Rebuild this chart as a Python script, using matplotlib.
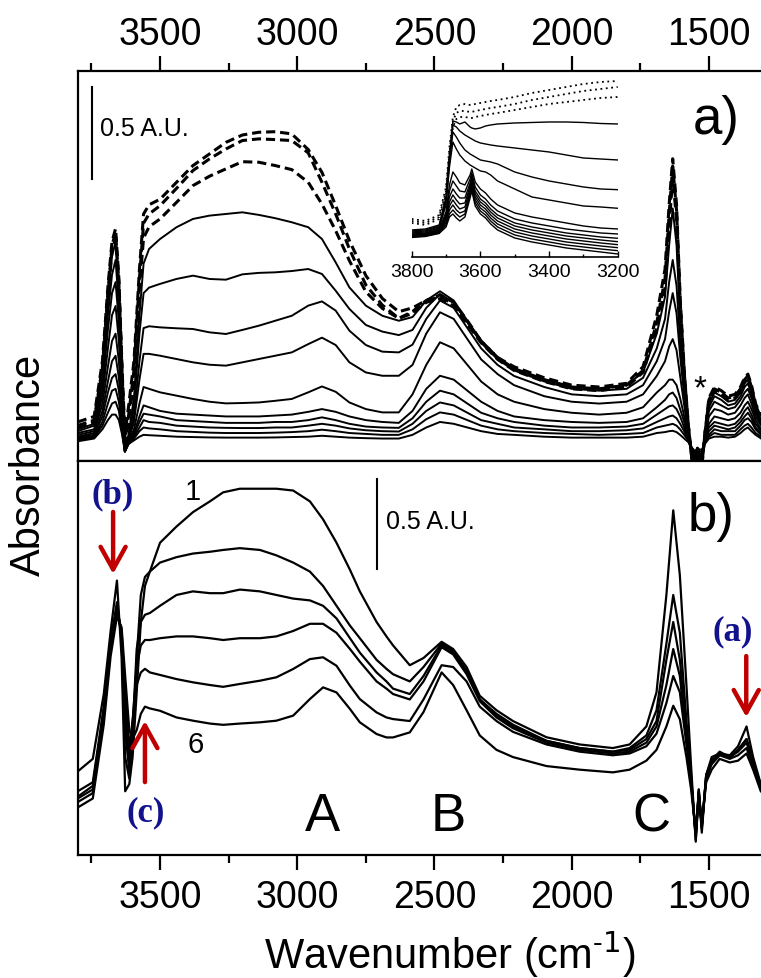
import matplotlib
matplotlib.use('Agg')
import matplotlib.pyplot as plt
from matplotlib.ticker import MultipleLocator

plt.rcParams['font.family'] = ['Liberation Sans', 'DejaVu Sans']

# ---- panel a: main spectra (absorbance, A.U.) ----
wa = [3800, 3740, 3710, 3690, 3675, 3662, 3650, 3638, 3628, 3615, 3595, 3575, 3560, 3540, 3500,
      3440, 3380, 3320, 3260, 3200, 3140, 3080, 3020, 2960, 2910, 2860, 2810, 2750, 2690, 2630,
      2580, 2530, 2480, 2430, 2380, 2330, 2270, 2210, 2100, 2000, 1900, 1800, 1740, 1690,
      1660, 1645, 1632, 1618, 1605, 1590, 1575, 1562, 1550, 1542, 1534, 1526, 1515, 1500,
      1480, 1455, 1430, 1405, 1385, 1370, 1358, 1345, 1330, 1310]

a_dash1 = [0.12, 0.15, 0.45, 0.85, 1.10, 1.17, 0.90, 0.40, 0.05, 0.20, 0.45, 0.95, 1.25, 1.30, 1.33,
           1.422, 1.513, 1.576, 1.639, 1.679, 1.694, 1.697, 1.685, 1.600, 1.476, 1.295, 1.105, 0.915, 0.791, 0.719,
           0.74, 0.78, 0.80, 0.76, 0.66, 0.56, 0.47, 0.42, 0.36, 0.32, 0.31, 0.33, 0.42, 0.70,
           0.95, 1.30, 1.55, 1.30, 0.80, 0.40, 0.10, -0.08, -0.15, -0.05, -0.12, -0.12, 0.05, 0.25,
           0.31, 0.29, 0.26, 0.27, 0.31, 0.36, 0.38, 0.32, 0.22, 0.15]
a_dash2 = [0.10, 0.13, 0.42, 0.82, 1.08, 1.15, 0.88, 0.38, 0.02, 0.15, 0.40, 0.90, 1.20, 1.25, 1.295,
           1.389, 1.486, 1.549, 1.603, 1.649, 1.658, 1.654, 1.649, 1.582, 1.422, 1.25, 1.06, 0.864, 0.755, 0.683,
           0.72, 0.78, 0.81, 0.77, 0.67, 0.56, 0.47, 0.41, 0.35, 0.31, 0.30, 0.32, 0.40, 0.66,
           0.90, 1.25, 1.51, 1.27, 0.78, 0.39, 0.10, -0.08, -0.15, -0.05, -0.12, -0.12, 0.05, 0.24,
           0.30, 0.28, 0.25, 0.26, 0.30, 0.35, 0.37, 0.31, 0.21, 0.14]
a_dash3 = [0.09, 0.12, 0.40, 0.80, 1.05, 1.12, 0.85, 0.35, 0.00, 0.12, 0.35, 0.85, 1.12, 1.18, 1.223,
           1.313, 1.404, 1.455, 1.495, 1.534, 1.531, 1.513, 1.491, 1.422, 1.304, 1.159, 0.996, 0.827, 0.737, 0.683,
           0.71, 0.77, 0.79, 0.75, 0.65, 0.55, 0.46, 0.40, 0.34, 0.30, 0.29, 0.31, 0.39, 0.63,
           0.85, 1.18, 1.45, 1.22, 0.75, 0.37, 0.09, -0.08, -0.15, -0.05, -0.12, -0.12, 0.05, 0.23,
           0.29, 0.27, 0.24, 0.25, 0.29, 0.34, 0.36, 0.30, 0.20, 0.14]

a_s1 = [0.08, 0.11, 0.38, 0.78, 1.02, 1.10, 0.82, 0.30, -0.03, 0.05, 0.25, 0.70, 0.98, 1.06, 1.114,
        1.178, 1.223, 1.241, 1.25, 1.259, 1.245, 1.227, 1.205, 1.178, 1.114, 0.987, 0.851, 0.752, 0.697, 0.670,
        0.69, 0.78, 0.83, 0.78, 0.67, 0.56, 0.47, 0.41, 0.35, 0.31, 0.30, 0.32, 0.39, 0.60,
        0.80, 1.08, 1.28, 1.08, 0.68, 0.34, 0.08, -0.08, -0.15, -0.05, -0.12, -0.12, 0.04, 0.22,
        0.28, 0.26, 0.23, 0.24, 0.28, 0.33, 0.35, 0.29, 0.20, 0.13]
a_s2 = [0.07, 0.10, 0.34, 0.70, 0.92, 1.00, 0.75, 0.28, -0.04, 0.03, 0.20, 0.60, 0.82, 0.85, 0.870,
        0.897, 0.915, 0.897, 0.893, 0.922, 0.930, 0.933, 0.940, 0.951, 0.924, 0.833, 0.734, 0.647, 0.611, 0.592,
        0.62, 0.74, 0.815, 0.77, 0.66, 0.55, 0.46, 0.40, 0.34, 0.30, 0.29, 0.30, 0.36, 0.52,
        0.68, 0.88, 1.00, 0.86, 0.56, 0.30, 0.07, -0.08, -0.14, -0.05, -0.11, -0.11, 0.04, 0.20,
        0.26, 0.24, 0.21, 0.22, 0.26, 0.31, 0.33, 0.27, 0.18, 0.12]
a_s3 = [0.06, 0.08, 0.30, 0.62, 0.82, 0.88, 0.66, 0.24, -0.04, 0.02, 0.15, 0.45, 0.63, 0.64, 0.634,
        0.629, 0.625, 0.607, 0.598, 0.620, 0.643, 0.670, 0.697, 0.752, 0.775, 0.725, 0.616, 0.538, 0.502, 0.498,
        0.54, 0.68, 0.78, 0.74, 0.63, 0.52, 0.43, 0.37, 0.31, 0.27, 0.26, 0.27, 0.32, 0.45,
        0.57, 0.72, 0.82, 0.71, 0.48, 0.26, 0.06, -0.07, -0.13, -0.05, -0.10, -0.10, 0.03, 0.18,
        0.23, 0.21, 0.19, 0.20, 0.24, 0.28, 0.30, 0.25, 0.17, 0.11]
a_s4 = [0.05, 0.07, 0.26, 0.52, 0.70, 0.75, 0.56, 0.20, -0.04, 0.02, 0.12, 0.35, 0.49, 0.49, 0.48,
        0.462, 0.444, 0.431, 0.426, 0.444, 0.462, 0.480, 0.498, 0.543, 0.578, 0.538, 0.444, 0.389, 0.371, 0.371,
        0.43, 0.60, 0.716, 0.68, 0.57, 0.46, 0.38, 0.32, 0.26, 0.23, 0.22, 0.23, 0.27, 0.37,
        0.45, 0.53, 0.57, 0.51, 0.37, 0.21, 0.05, -0.06, -0.11, -0.04, -0.09, -0.09, 0.03, 0.15,
        0.19, 0.18, 0.16, 0.17, 0.21, 0.25, 0.27, 0.22, 0.15, 0.10]
a_s5 = [0.04, 0.06, 0.22, 0.42, 0.56, 0.60, 0.45, 0.16, -0.04, 0.01, 0.08, 0.22, 0.31, 0.30, 0.281,
        0.263, 0.245, 0.230, 0.221, 0.223, 0.226, 0.235, 0.245, 0.281, 0.313, 0.284, 0.226, 0.190, 0.172, 0.172,
        0.27, 0.43, 0.553, 0.52, 0.43, 0.34, 0.27, 0.23, 0.19, 0.17, 0.16, 0.17, 0.20, 0.28,
        0.32, 0.35, 0.35, 0.32, 0.25, 0.15, 0.04, -0.05, -0.09, -0.04, -0.08, -0.08, 0.02, 0.11,
        0.15, 0.14, 0.13, 0.14, 0.17, 0.21, 0.23, 0.19, 0.13, 0.08]
a_s6 = [0.035, 0.05, 0.18, 0.34, 0.45, 0.48, 0.36, 0.12, -0.04, 0.01, 0.06, 0.15, 0.21, 0.20, 0.18,
        0.165, 0.16, 0.155, 0.15, 0.15, 0.15, 0.155, 0.16, 0.175, 0.19, 0.175, 0.15, 0.13, 0.12, 0.115,
        0.18, 0.30, 0.371, 0.35, 0.29, 0.23, 0.18, 0.15, 0.13, 0.12, 0.115, 0.12, 0.14, 0.20,
        0.24, 0.27, 0.28, 0.25, 0.19, 0.12, 0.03, -0.04, -0.08, -0.03, -0.07, -0.07, 0.02, 0.09,
        0.12, 0.11, 0.10, 0.11, 0.14, 0.18, 0.20, 0.16, 0.11, 0.07]
a_s7 = [0.03, 0.045, 0.15, 0.28, 0.36, 0.38, 0.29, 0.10, -0.04, 0.01, 0.05, 0.12, 0.165, 0.16, 0.15,
        0.13, 0.125, 0.12, 0.115, 0.115, 0.115, 0.12, 0.12, 0.13, 0.145, 0.13, 0.11, 0.095, 0.09, 0.088,
        0.14, 0.23, 0.29, 0.27, 0.22, 0.17, 0.14, 0.12, 0.10, 0.09, 0.09, 0.095, 0.11, 0.16,
        0.19, 0.205, 0.21, 0.19, 0.15, 0.09, 0.03, -0.03, -0.07, -0.03, -0.06, -0.06, 0.01, 0.07,
        0.10, 0.09, 0.08, 0.09, 0.12, 0.15, 0.17, 0.14, 0.09, 0.06]
a_s8 = [0.025, 0.04, 0.12, 0.22, 0.29, 0.30, 0.23, 0.08, -0.04, 0.0, 0.04, 0.09, 0.13, 0.12, 0.115,
        0.10, 0.095, 0.09, 0.088, 0.087, 0.087, 0.09, 0.09, 0.10, 0.11, 0.10, 0.085, 0.075, 0.07, 0.068,
        0.11, 0.18, 0.226, 0.21, 0.17, 0.13, 0.11, 0.09, 0.08, 0.07, 0.07, 0.075, 0.085, 0.12,
        0.14, 0.15, 0.155, 0.14, 0.11, 0.07, 0.02, -0.03, -0.06, -0.02, -0.05, -0.05, 0.01, 0.05,
        0.08, 0.07, 0.07, 0.07, 0.10, 0.13, 0.14, 0.12, 0.08, 0.05]
a_s9 = [0.02, 0.035, 0.10, 0.17, 0.22, 0.23, 0.18, 0.06, -0.04, 0.0, 0.03, 0.07, 0.09, 0.085, 0.08,
        0.07, 0.066, 0.062, 0.06, 0.06, 0.06, 0.062, 0.065, 0.07, 0.078, 0.07, 0.06, 0.055, 0.05, 0.05,
        0.08, 0.135, 0.172, 0.16, 0.13, 0.10, 0.08, 0.07, 0.06, 0.055, 0.05, 0.055, 0.06, 0.09,
        0.10, 0.105, 0.11, 0.10, 0.08, 0.05, 0.02, -0.02, -0.05, -0.02, -0.04, -0.04, 0.01, 0.04,
        0.06, 0.05, 0.05, 0.05, 0.08, 0.10, 0.11, 0.09, 0.06, 0.04]
a_s10 = [0.015, 0.03, 0.08, 0.13, 0.16, 0.16, 0.13, 0.05, -0.04, 0.0, 0.02, 0.04, 0.05, 0.048, 0.045,
         0.04, 0.038, 0.036, 0.035, 0.035, 0.035, 0.036, 0.038, 0.04, 0.045, 0.04, 0.035, 0.032, 0.03, 0.03,
         0.05, 0.09, 0.12, 0.11, 0.09, 0.07, 0.055, 0.05, 0.04, 0.035, 0.035, 0.035, 0.04, 0.06,
         0.065, 0.07, 0.072, 0.065, 0.05, 0.03, 0.01, -0.02, -0.04, -0.02, -0.03, -0.03, 0.0, 0.03,
         0.04, 0.04, 0.035, 0.04, 0.06, 0.08, 0.09, 0.07, 0.05, 0.03]

a_dashed = [a_dash1, a_dash2, a_dash3]
a_solid = [a_s1, a_s2, a_s3, a_s4, a_s5, a_s6, a_s7, a_s8, a_s9, a_s10]

# ---- panel a inset: 3800-3200 cm-1 ----
wi = [3800, 3760, 3720, 3700, 3690, 3680, 3670, 3660, 3645, 3630, 3625, 3615,
      3600, 3585, 3570, 3550, 3500, 3450, 3400, 3350, 3300, 3250, 3200]

in_dot = [
    [0.38, 0.36, 0.42, 0.70, 1.10, 1.40, 1.50, 1.52, 1.53, 1.52, 1.52, 1.53, 1.54, 1.55, 1.56, 1.57, 1.60, 1.64, 1.67, 1.70, 1.73, 1.75, 1.76],
    [0.36, 0.34, 0.40, 0.66, 1.05, 1.36, 1.44, 1.46, 1.46, 1.45, 1.45, 1.46, 1.47, 1.48, 1.49, 1.50, 1.53, 1.57, 1.60, 1.63, 1.66, 1.68, 1.70],
    [0.34, 0.32, 0.38, 0.62, 1.00, 1.30, 1.38, 1.40, 1.40, 1.39, 1.39, 1.40, 1.41, 1.42, 1.43, 1.44, 1.47, 1.50, 1.53, 1.55, 1.57, 1.59, 1.60],
]
in_solid = [
    [0.27, 0.28, 0.32, 0.60, 1.00, 1.36, 1.35, 1.33, 1.35, 1.30, 1.29, 1.28, 1.29, 1.31, 1.32, 1.33, 1.34, 1.345, 1.35, 1.35, 1.345, 1.335, 1.33],
    [0.26, 0.27, 0.31, 0.58, 0.98, 1.32, 1.30, 1.26, 1.22, 1.19, 1.18, 1.16, 1.14, 1.13, 1.12, 1.11, 1.09, 1.07, 1.05, 1.02, 0.99, 0.98, 0.97],
    [0.25, 0.26, 0.30, 0.55, 0.95, 1.25, 1.20, 1.14, 1.07, 1.03, 1.02, 1.00, 0.97, 0.96, 0.95, 0.93, 0.85, 0.80, 0.76, 0.73, 0.70, 0.68, 0.673],
    [0.24, 0.25, 0.29, 0.52, 0.90, 1.15, 1.08, 1.02, 0.96, 0.92, 0.91, 0.89, 0.86, 0.85, 0.82, 0.76, 0.68, 0.60, 0.57, 0.54, 0.51, 0.50, 0.487],
    [0.23, 0.24, 0.28, 0.45, 0.72, 0.85, 0.80, 0.74, 0.72, 0.82, 0.88, 0.75, 0.68, 0.64, 0.58, 0.52, 0.44, 0.40, 0.37, 0.34, 0.31, 0.29, 0.28],
    [0.225, 0.235, 0.27, 0.42, 0.66, 0.76, 0.71, 0.66, 0.65, 0.78, 0.84, 0.70, 0.62, 0.58, 0.52, 0.46, 0.38, 0.34, 0.31, 0.28, 0.26, 0.24, 0.23],
    [0.22, 0.23, 0.26, 0.40, 0.60, 0.68, 0.63, 0.59, 0.59, 0.74, 0.81, 0.66, 0.58, 0.54, 0.48, 0.42, 0.34, 0.30, 0.27, 0.24, 0.22, 0.20, 0.187],
    [0.215, 0.225, 0.255, 0.38, 0.55, 0.62, 0.57, 0.53, 0.54, 0.71, 0.78, 0.63, 0.55, 0.51, 0.45, 0.39, 0.31, 0.27, 0.24, 0.21, 0.19, 0.17, 0.153],
    [0.21, 0.22, 0.25, 0.36, 0.51, 0.57, 0.52, 0.48, 0.50, 0.68, 0.75, 0.60, 0.52, 0.48, 0.42, 0.36, 0.28, 0.24, 0.21, 0.18, 0.16, 0.14, 0.123],
    [0.205, 0.215, 0.245, 0.34, 0.47, 0.52, 0.47, 0.44, 0.46, 0.65, 0.72, 0.57, 0.49, 0.45, 0.39, 0.33, 0.25, 0.21, 0.18, 0.15, 0.13, 0.11, 0.093],
    [0.20, 0.21, 0.24, 0.32, 0.43, 0.47, 0.43, 0.40, 0.43, 0.62, 0.69, 0.54, 0.46, 0.42, 0.36, 0.30, 0.22, 0.18, 0.15, 0.12, 0.10, 0.08, 0.063],
    [0.195, 0.205, 0.235, 0.30, 0.40, 0.43, 0.39, 0.36, 0.40, 0.59, 0.66, 0.51, 0.43, 0.39, 0.33, 0.27, 0.19, 0.15, 0.12, 0.09, 0.07, 0.05, 0.03],
]

# ---- panel b: spectra 1-6 ----
wb = [3800, 3745, 3705, 3680, 3657, 3640, 3627, 3612, 3600, 3585,
      3570, 3555, 3537, 3500, 3440, 3380, 3318, 3270, 3209, 3136,
      3076, 3015, 2954, 2906, 2857, 2808, 2772, 2711, 2675, 2651,
      2590, 2540, 2474, 2432, 2383, 2335, 2274, 2214, 2092, 1971,
      1850, 1789, 1728, 1691, 1655, 1630, 1606, 1582, 1565, 1548,
      1537, 1526, 1510, 1490, 1461, 1424, 1394, 1363, 1339, 1311]

b_1 = [0.32, 0.39, 0.75, 1.10, 1.38, 0.95, 0.21, 0.25, 0.40, 0.76,
       1.15, 1.35, 1.43, 1.59, 1.68, 1.76, 1.82, 1.87, 1.89, 1.89,
       1.89, 1.88, 1.82, 1.72, 1.59, 1.44, 1.32, 1.15, 1.07, 1.02,
       0.91, 0.95, 1.04, 1.00, 0.90, 0.74, 0.66, 0.60, 0.51, 0.47,
       0.45, 0.47, 0.57, 0.76, 1.30, 1.77, 1.41, 0.80, 0.35, -0.07,
       0.22, -0.02, 0.30, 0.40, 0.42, 0.41, 0.46, 0.57, 0.40, 0.25]
b_2 = [0.21, 0.26, 0.68, 1.05, 1.26, 1.05, 0.40, 0.28, 0.45, 0.95,
       1.30, 1.40, 1.43, 1.48, 1.51, 1.53, 1.54, 1.55, 1.56, 1.55,
       1.52, 1.48, 1.43, 1.35, 1.24, 1.13, 1.06, 0.94, 0.89, 0.86,
       0.82, 0.90, 1.03, 0.99, 0.88, 0.72, 0.64, 0.58, 0.49, 0.45,
       0.43, 0.45, 0.52, 0.66, 1.03, 1.30, 1.09, 0.60, 0.30, -0.06,
       0.20, 0.00, 0.30, 0.38, 0.43, 0.40, 0.44, 0.50, 0.38, 0.24]
b_3 = [0.18, 0.24, 0.66, 1.03, 1.24, 1.08, 0.55, 0.32, 0.55, 1.00,
       1.15, 1.19, 1.20, 1.24, 1.30, 1.32, 1.31, 1.31, 1.33, 1.32,
       1.30, 1.28, 1.27, 1.24, 1.17, 1.06, 0.98, 0.87, 0.82, 0.78,
       0.75, 0.85, 1.02, 0.98, 0.87, 0.72, 0.63, 0.57, 0.49, 0.45,
       0.43, 0.44, 0.50, 0.60, 0.94, 1.15, 0.94, 0.55, 0.28, -0.04,
       0.22, 0.01, 0.30, 0.38, 0.42, 0.40, 0.44, 0.50, 0.38, 0.24]
b_4 = [0.17, 0.22, 0.64, 1.02, 1.22, 1.10, 0.65, 0.38, 0.60, 0.90,
       1.02, 1.05, 1.05, 1.06, 1.07, 1.07, 1.06, 1.05, 1.06, 1.06,
       1.07, 1.10, 1.14, 1.14, 1.09, 1.00, 0.93, 0.82, 0.78, 0.75,
       0.72, 0.82, 1.01, 0.97, 0.86, 0.71, 0.62, 0.56, 0.48, 0.44,
       0.42, 0.43, 0.48, 0.57, 0.80, 1.00, 0.85, 0.50, 0.27, -0.03,
       0.21, 0.02, 0.29, 0.37, 0.42, 0.40, 0.43, 0.48, 0.37, 0.23]
b_5 = [0.15, 0.20, 0.62, 1.00, 1.20, 1.10, 0.75, 0.45, 0.60, 0.80,
       0.87, 0.89, 0.87, 0.856, 0.833, 0.815, 0.80, 0.79, 0.806, 0.824,
       0.843, 0.889, 0.944, 0.954, 0.907, 0.796, 0.722, 0.648, 0.62, 0.611,
       0.60, 0.72, 0.91, 0.90, 0.82, 0.68, 0.60, 0.54, 0.47, 0.43,
       0.41, 0.42, 0.46, 0.53, 0.70, 0.85, 0.76, 0.47, 0.26, -0.03,
       0.20, 0.02, 0.28, 0.36, 0.41, 0.39, 0.41, 0.45, 0.35, 0.22]
b_6 = [0.12, 0.17, 0.58, 0.96, 1.18, 1.12, 0.85, 0.55, 0.50, 0.55,
       0.64, 0.68, 0.67, 0.657, 0.62, 0.602, 0.586, 0.579, 0.586, 0.593,
       0.602, 0.63, 0.722, 0.787, 0.759, 0.667, 0.593, 0.528, 0.509, 0.509,
       0.537, 0.65, 0.87, 0.80, 0.66, 0.52, 0.44, 0.40, 0.35, 0.33,
       0.315, 0.33, 0.38, 0.44, 0.57, 0.685, 0.61, 0.40, 0.22, -0.02,
       0.18, 0.03, 0.26, 0.33, 0.39, 0.37, 0.38, 0.42, 0.33, 0.21]

b_spectra = [b_1, b_2, b_3, b_4, b_5, b_6]

LABEL_BLUE = '#12128c'
ARROW_RED = '#c00000'

fig = plt.figure(figsize=(7.61, 9.79), dpi=100)
ax_a = fig.add_axes([0.1021, 0.5281, 0.898, 0.3984])
ax_b = fig.add_axes([0.1021, 0.1256, 0.898, 0.4025])

for ax in (ax_a, ax_b):
    ax.set_xlim(3800, 1310)
    ax.xaxis.set_major_locator(MultipleLocator(500))
    ax.xaxis.set_minor_locator(MultipleLocator(250))
    ax.set_yticks([])
    ax.spines['right'].set_visible(False)
    for s in ax.spines.values():
        s.set_linewidth(1.6)

ax_a.set_ylim(-0.092, 2.027)
ax_b.set_ylim(-0.144, 2.044)

ax_a.tick_params(axis='x', which='both', top=True, bottom=False, labeltop=True,
                 labelbottom=False, direction='out', width=1.6, labelsize=27, pad=3)
ax_a.tick_params(axis='x', which='major', length=10.5)
ax_a.tick_params(axis='x', which='minor', length=5.8)
ax_b.tick_params(axis='x', which='both', top=False, bottom=True, direction='out',
                 width=1.6, labelsize=27, pad=7)
ax_b.tick_params(axis='x', which='major', length=10.5)
ax_b.tick_params(axis='x', which='minor', length=5.8)

# panel a spectra
for y in a_solid:
    ax_a.plot(wa, y, color='black', lw=1.4)
for y in a_dashed:
    ax_a.plot(wa, y, color='black', lw=2.2, linestyle=(0, (3, 1.6)))

ax_a.plot([3748, 3748], [1.44, 1.94], color='black', lw=1.5)
ax_a.text(3719, 1.717, '0.5 A.U.', fontsize=18, va='center', ha='left')
ax_a.text(0.935, 0.84, 'a)', transform=ax_a.transAxes, fontsize=38, ha='center', va='baseline')
ax_a.text(1534, 0.30, '*', fontsize=24, ha='center', va='center')

# inset
ax_in = fig.add_axes([0.541, 0.7365, 0.2707, 0.1869])
ax_in.set_facecolor('none')
ax_in.set_xlim(3800, 3200)
ax_in.set_ylim(0, 1.83)
for side in ('left', 'right', 'top'):
    ax_in.spines[side].set_visible(False)
ax_in.spines['bottom'].set_linewidth(1.2)
ax_in.set_yticks([])
ax_in.xaxis.set_major_locator(MultipleLocator(200))
ax_in.xaxis.set_minor_locator(MultipleLocator(100))
ax_in.tick_params(axis='x', which='both', direction='in', width=1.0, labelsize=14, pad=4)
ax_in.tick_params(axis='x', which='major', length=4)
ax_in.tick_params(axis='x', which='minor', length=2.5)
for y in in_solid:
    ax_in.plot(wi, y, color='black', lw=1.0)
for y in in_dot:
    ax_in.plot(wi, y, color='black', lw=1.3, linestyle=(0, (1, 2)))

# panel b spectra
for y in b_spectra:
    ax_b.plot(wb, y, color='black', lw=1.6)

ax_b.plot([2710, 2710], [1.444, 1.944], color='black', lw=1.5)
ax_b.text(2677, 1.711, '0.5 A.U.', fontsize=18, va='center', ha='left')
ax_b.text(0.927, 0.825, 'b)', transform=ax_b.transAxes, fontsize=38, ha='center', va='baseline')
ax_b.text(3380, 1.833, '1', fontsize=21, ha='center', va='baseline')
ax_b.text(3369, 0.428, '6', fontsize=21, ha='center', va='baseline')
for lab, xw in (('A', 2907), ('B', 2451), ('C', 1708)):
    ax_b.text(xw, -0.005, lab, fontsize=38, ha='center', va='baseline')

arrow = dict(arrowstyle='->,head_length=0.9,head_width=0.5', color=ARROW_RED, lw=3.2,
             shrinkA=0, shrinkB=0, mutation_scale=18)
ax_b.annotate('', xy=(3671, 1.417), xytext=(3671, 1.761), arrowprops=arrow)
ax_b.annotate('', xy=(3555, 0.60), xytext=(3555, 0.261), arrowprops=arrow)
ax_b.annotate('', xy=(1364, 0.622), xytext=(1364, 0.961), arrowprops=arrow)

serif = dict(family=['Liberation Serif', 'DejaVu Serif'], fontweight='bold',
             fontsize=25, color=LABEL_BLUE, ha='center', va='center')
ax_b.text(3671, 1.861, '(b)', **serif)
ax_b.text(3551, 0.094, '(c)', **serif)
ax_b.text(1414, 1.10, '(a)', **serif)

fig.text(0.038, 0.525, 'Absorbance', rotation=90, fontsize=30, ha='center', va='center')
fig.text(0.591, 0.0245, 'Wavenumber (cm$^{\\mathregular{\u2010}1}$)', fontsize=30,
         ha='center', va='center')

fig.savefig('out.png', dpi=100)
